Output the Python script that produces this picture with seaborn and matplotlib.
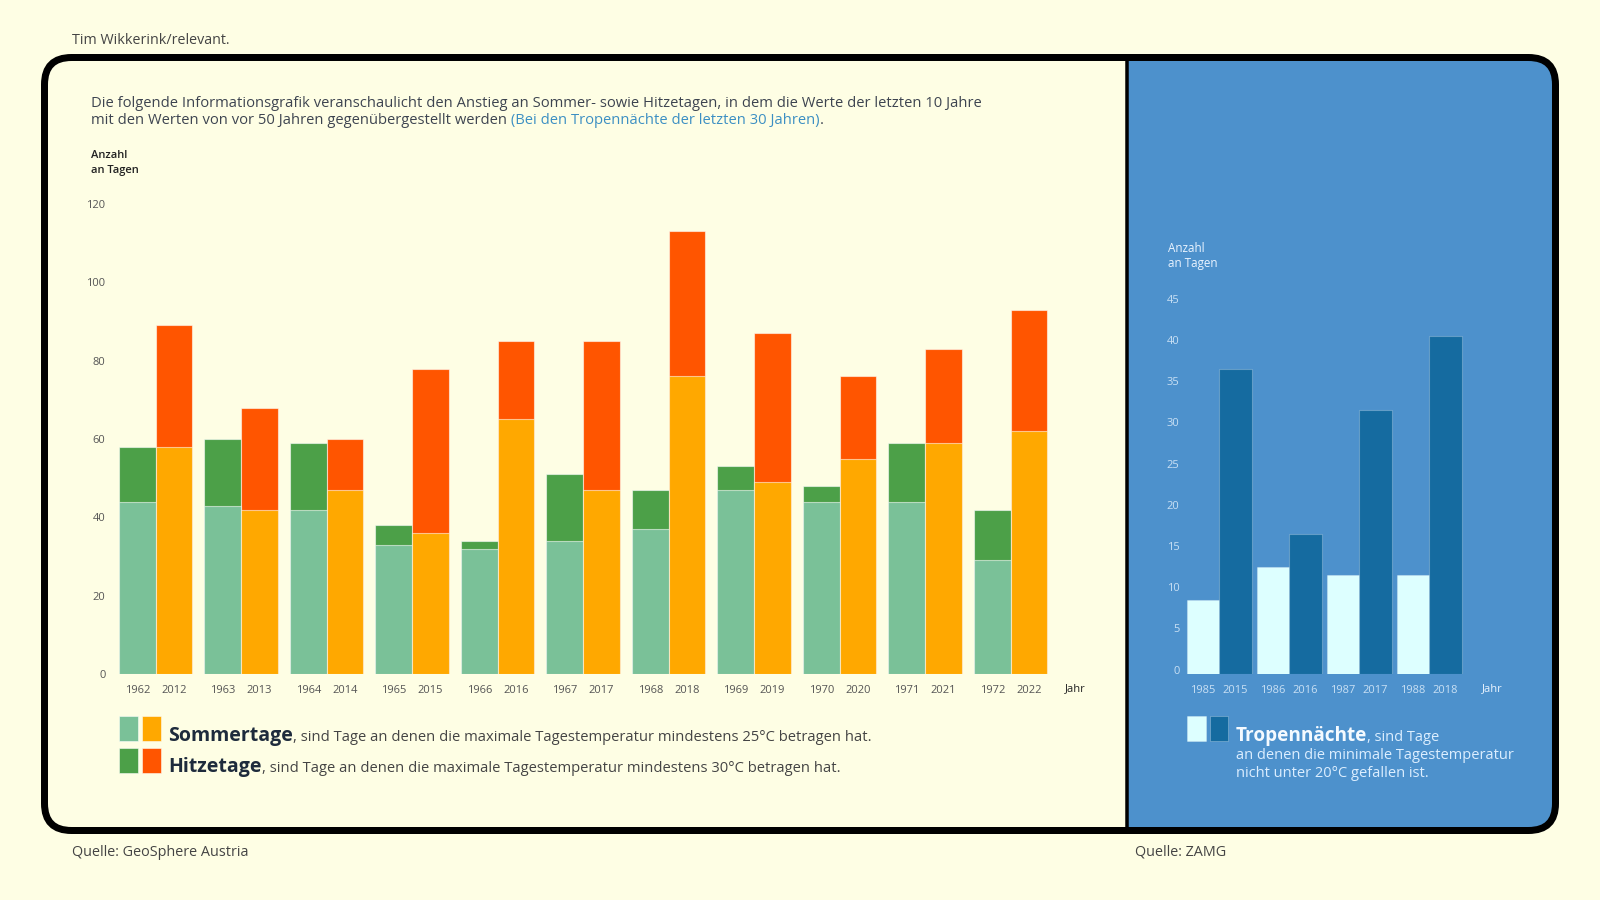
import pandas as pd
import matplotlib.pyplot as plt
import seaborn as sns
from matplotlib.patches import FancyBboxPatch, Rectangle

# Sommertage / Hitzetage (GeoSphere Austria), Vergleich vor 50 Jahren vs. letzte 10 Jahre
jahre_alt = [1962, 1963, 1964, 1965, 1966, 1967, 1968, 1969, 1970, 1971, 1972]
jahre_neu = [2012, 2013, 2014, 2015, 2016, 2017, 2018, 2019, 2020, 2021, 2022]
sommertage_alt = [44, 43, 42, 33, 32, 34, 37, 47, 44, 44, 29]
hitzetage_alt = [14, 17, 17, 5, 2, 17, 10, 6, 4, 15, 13]
sommertage_neu = [58, 42, 47, 36, 65, 47, 76, 49, 55, 59, 62]
hitzetage_neu = [31, 26, 13, 42, 20, 38, 37, 38, 21, 24, 31]

# Tropennächte (ZAMG), Vergleich vor 30 Jahren
tropen_jahre_alt = [1985, 1986, 1987, 1988]
tropen_jahre_neu = [2015, 2016, 2017, 2018]
tropennaechte_alt = [9, 13, 12, 12]
tropennaechte_neu = [37, 17, 32, 41]

# Farben
BG = '#FEFEE4'
PANEL = '#4D91CC'
HELLGRUEN = '#7AC198'
DUNKELGRUEN = '#4CA048'
ORANGE = '#FFA800'
ROT = '#FF5500'
TROPEN_HELL = '#DDFFFF'
TROPEN_DUNKEL = '#156BA0'
TEXT = '#3D4450'
TICK = '#555555'

sns.set_theme(style='white')
plt.rcParams['font.family'] = ['Open Sans', 'DejaVu Sans']

W, H = 1600, 900
fig = plt.figure(figsize=(16, 9), dpi=100, facecolor=BG)
renderer = fig.canvas.get_renderer()


def box(l, t, r, b):
    return [l / W, 1 - b / H, (r - l) / W, (b - t) / H]


def fx(x):
    return x / W


def fy(y):
    return 1 - y / H


def zeile(x, y, teile, va='baseline'):
    # Text aus mehreren Stücken mit eigenem Stil aneinanderreihen
    for text, kw in teile:
        t = fig.text(fx(x), fy(y), text, ha='left', va=va, **kw)
        x += t.get_window_extent(renderer).width


# Hintergrund: abgerundeter Rahmen, rechts blaues Feld
bg = fig.add_axes([0, 0, 1, 1], zorder=0)
bg.set_xlim(0, W)
bg.set_ylim(H, 0)
bg.axis('off')
rahmen = FancyBboxPatch((44.5, 57.5), 1511, 773, boxstyle='round,pad=0,rounding_size=27',
                        fc=BG, ec='none')
bg.add_patch(rahmen)
blau = Rectangle((1127, 40), 450, 810, fc=PANEL, ec='none')
bg.add_patch(blau)
blau.set_clip_path(rahmen)
bg.add_patch(FancyBboxPatch((44.5, 57.5), 1511, 773, boxstyle='round,pad=0,rounding_size=27',
                            fc='none', ec='black', lw=7 * 0.72))
bg.plot([1126.5, 1126.5], [58, 830], color='black', lw=3.5 * 0.72, solid_capstyle='butt')

# ---------- linkes Diagramm ----------
df = pd.concat([
    pd.DataFrame({'gruppe': range(len(jahre_alt)), 'periode': 'alt', 'jahr': jahre_alt,
                  'sommer': sommertage_alt, 'hitze': hitzetage_alt}),
    pd.DataFrame({'gruppe': range(len(jahre_neu)), 'periode': 'neu', 'jahr': jahre_neu,
                  'sommer': sommertage_neu, 'hitze': hitzetage_neu}),
])
df['gesamt'] = df['sommer'] + df['hitze']

ax = fig.add_axes(box(111, 204, 1100, 674), facecolor='none', zorder=1)
breite = 0.86
kante = (1, 1, 1, 0.55)
sns.barplot(data=df, x='gruppe', y='gesamt', hue='periode', hue_order=['alt', 'neu'],
            palette={'alt': DUNKELGRUEN, 'neu': ROT}, width=breite, gap=0, saturation=1,
            errorbar=None, edgecolor=kante, linewidth=0.8, legend=False, ax=ax)
sns.barplot(data=df, x='gruppe', y='sommer', hue='periode', hue_order=['alt', 'neu'],
            palette={'alt': HELLGRUEN, 'neu': ORANGE}, width=breite, gap=0, saturation=1,
            errorbar=None, edgecolor=kante, linewidth=0.8, legend=False, ax=ax)

pitch, mitte0 = 85.5, 155.7
ax.set_xlim((111 - mitte0) / pitch, (1100 - mitte0) / pitch)
ax.set_ylim(0, 120)
ax.set_yticks(range(0, 121, 20))
pos, labels = [], []
for i, (a, n) in enumerate(zip(jahre_alt, jahre_neu)):
    pos += [i - breite / 4, i + breite / 4]
    labels += [str(a), str(n)]
ax.set_xticks(pos, labels)
ax.tick_params(axis='x', length=0, pad=8, labelsize=8, labelcolor=TICK)
ax.tick_params(axis='y', length=0, pad=4, labelsize=8, labelcolor=TICK)
ax.set_xlabel('')
ax.set_ylabel('')
sns.despine(ax=ax, left=True, bottom=True)
fig.text(fx(1065), fy(689), 'Jahr', ha='left', va='center', size=8, color='#222222')

# ---------- rechtes Diagramm ----------
df_t = pd.concat([
    pd.DataFrame({'gruppe': range(4), 'periode': 'alt', 'tage': tropennaechte_alt}),
    pd.DataFrame({'gruppe': range(4), 'periode': 'neu', 'tage': tropennaechte_neu}),
])
ax2 = fig.add_axes(box(1185, 302.8, 1515, 673.7), facecolor='none', zorder=1)
breite2 = 0.93
sns.barplot(data=df_t, x='gruppe', y='tage', hue='periode', hue_order=['alt', 'neu'],
            palette={'alt': TROPEN_HELL, 'neu': TROPEN_DUNKEL}, width=breite2, gap=0,
            saturation=1, errorbar=None, edgecolor=(1, 1, 1, 0.25), linewidth=0.8,
            legend=False, ax=ax2)
pitch2, mitte2 = 70, 1219.2
ax2.set_xlim((1185 - mitte2) / pitch2, (1515 - mitte2) / pitch2)
ax2.set_ylim(0, 45)
ax2.set_yticks(range(0, 46, 5))
for lab in ax2.get_yticklabels():
    lab.set_verticalalignment('baseline')
pos2, labels2 = [], []
for i, (a, n) in enumerate(zip(tropen_jahre_alt, tropen_jahre_neu)):
    pos2 += [i - breite2 / 4, i + breite2 / 4]
    labels2 += [str(a), str(n)]
ax2.set_xticks(pos2, labels2)
ax2.tick_params(axis='x', length=0, pad=8, labelsize=8, labelcolor='#C9E0F4')
ax2.tick_params(axis='y', length=0, pad=4, labelsize=8, labelcolor='#C9E0F4')
ax2.set_xlabel('')
ax2.set_ylabel('')
sns.despine(ax=ax2, left=True, bottom=True)
fig.text(fx(1482), fy(689), 'Jahr', ha='left', va='center', size=8, color='#EAF4FF')

# ---------- Texte ----------
fig.text(fx(72), fy(41), 'Tim Wikkerink/relevant.', ha='left', va='center', size=10.3, color='#444444')
fig.text(fx(72), fy(852), 'Quelle: GeoSphere Austria', ha='left', va='center', size=10.4, color='#444444')
fig.text(fx(1135), fy(852), 'Quelle: ZAMG', ha='left', va='center', size=10.4, color='#444444')

intro = dict(size=10.6, color=TEXT)
zeile(91, 107, [('Die folgende Informationsgrafik veranschaulicht den Anstieg an Sommer- sowie '
                 'Hitzetagen, in dem die Werte der letzten 10 Jahre', intro)])
zeile(91, 124, [('mit den Werten von vor 50 Jahren gegenübergestellt werden', intro),
                (' (Bei den Tropennächte der letzten 30 Jahren)', dict(size=10.6, color='#3C8FC3')),
                ('.', intro)])

fig.text(fx(91), fy(156), 'Anzahl', ha='left', va='center', size=8, color='#222222', weight='semibold')
fig.text(fx(91), fy(170), 'an Tagen', ha='left', va='center', size=8, color='#222222', weight='semibold')
fig.text(fx(1168), fy(249), 'Anzahl', ha='left', va='center', size=8.4, color='#EAF4FF')
fig.text(fx(1168), fy(263), 'an Tagen', ha='left', va='center', size=8.4, color='#EAF4FF')

# Legende links
for (x, y, c) in [(119, 716, HELLGRUEN), (142, 716, ORANGE), (119, 748, DUNKELGRUEN), (142, 748, ROT)]:
    bg.add_patch(Rectangle((x, y), 18.5, 25, fc=c, ec=(1, 1, 1, 0.6), lw=0.6))
fett = dict(size=14, weight='bold', color='#1E2B3C')
normal = dict(size=10.6, color='#444444')
zeile(168, 741, [('Sommertage', fett),
                 (', sind Tage an denen die maximale Tagestemperatur mindestens 25°C betragen hat.', normal)])
zeile(168, 772, [('Hitzetage', fett),
                 (', sind Tage an denen die maximale Tagestemperatur mindestens 30°C betragen hat.', normal)])

# Legende rechts
for (x, c) in [(1187, TROPEN_HELL), (1209.5, TROPEN_DUNKEL)]:
    bg.add_patch(Rectangle((x, 716), 18.5, 25, fc=c, ec=(1, 1, 1, 0.3), lw=0.6))
zeile(1236, 741, [('Tropennächte', dict(size=13.7, weight='bold', color='#F4FAFF')),
                  (', sind Tage', dict(size=10.5, color='#DCEEFF'))])
fig.text(fx(1236), fy(759), 'an denen die minimale Tagestemperatur', ha='left', va='baseline',
         size=10.5, color='#DCEEFF')
fig.text(fx(1236), fy(777), 'nicht unter 20°C gefallen ist.', ha='left', va='baseline',
         size=10.5, color='#DCEEFF')

fig.savefig('out.png', dpi=100, facecolor=BG)
